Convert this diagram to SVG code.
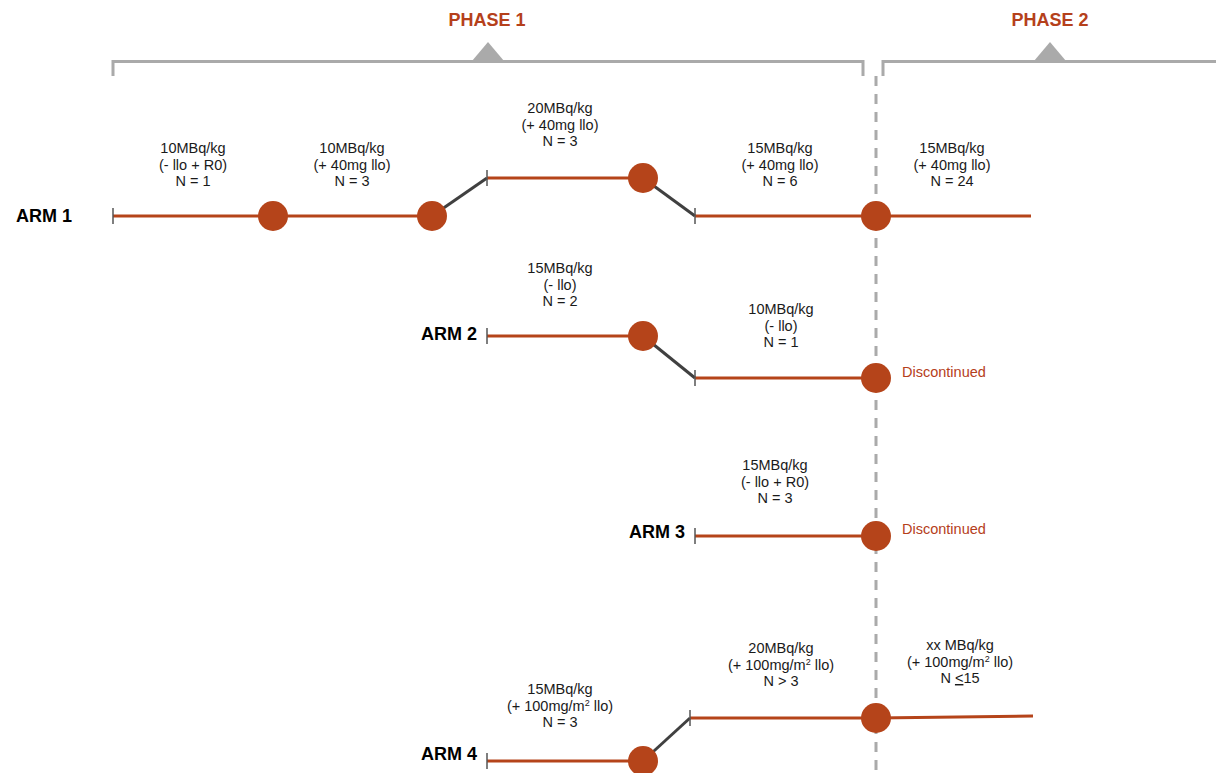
<svg xmlns="http://www.w3.org/2000/svg" width="1216" height="773" viewBox="0 0 1216 773">
<style>
text{font-family:"Liberation Sans",Arial,sans-serif;}
.lbl{font-size:14.5px;fill:#1a1a1a;text-anchor:middle;}
.arm{font-size:18px;font-weight:bold;fill:#000;}
.ph{font-size:18px;font-weight:bold;fill:#b5401b;text-anchor:middle;}
.disc{font-size:14.5px;fill:#b5401b;}
.seg{stroke:#b5441a;stroke-width:3;fill:none;}
.step{stroke:#404040;stroke-width:3;fill:none;}
.tick{stroke:#555;stroke-width:1.5;}
.dot{fill:#b5441a;}
.br{stroke:#aaa;stroke-width:3;fill:none;}
</style>
<rect width="1216" height="773" fill="#fff"/>
<g id="phase1">
<path class="br" d="M113,76 V61.5 H863 V76"/>
<polygon points="472,61 488,42 504,61" fill="#aaa"/>
<text class="ph" x="487" y="26">PHASE 1</text>
</g>
<g id="phase2">
<path class="br" d="M883,76 V61.5 H1216"/>
<polygon points="1034,61 1050,42 1066,61" fill="#aaa"/>
<text class="ph" x="1050" y="26">PHASE 2</text>
</g>
<g id="divider">
<line x1="876" y1="76" x2="876" y2="773" stroke="#aaa" stroke-width="3" stroke-dasharray="10,8"/>
</g>
<g id="connectors">
<line class="seg" x1="113" y1="216" x2="432" y2="216"/>
<line class="step" x1="432" y1="216" x2="487" y2="178"/>
<line class="seg" x1="487" y1="178" x2="643" y2="178"/>
<line class="step" x1="643" y1="178" x2="695" y2="216"/>
<line class="seg" x1="695" y1="216" x2="1031" y2="216"/>
<line class="seg" x1="487" y1="336" x2="643" y2="336"/>
<line class="step" x1="643" y1="336" x2="695" y2="378"/>
<line class="seg" x1="695" y1="378" x2="876" y2="378"/>
<line class="seg" x1="695" y1="536" x2="876" y2="536"/>
<line class="seg" x1="487" y1="761" x2="643" y2="761"/>
<line class="step" x1="643" y1="761" x2="690" y2="718"/>
<line class="seg" x1="690" y1="718" x2="876" y2="718"/>
<line class="seg" x1="876" y1="718" x2="1033" y2="716"/>
<line class="tick" x1="113" y1="208" x2="113" y2="224"/>
<line class="tick" x1="487" y1="170" x2="487" y2="186"/>
<line class="tick" x1="695" y1="208" x2="695" y2="224"/>
<line class="tick" x1="487" y1="328" x2="487" y2="344"/>
<line class="tick" x1="695" y1="370" x2="695" y2="386"/>
<line class="tick" x1="695" y1="528" x2="695" y2="544"/>
<line class="tick" x1="487" y1="753" x2="487" y2="769"/>
<line class="tick" x1="690" y1="710" x2="690" y2="726"/>
</g>
<g id="arm1">
<text class="arm" x="16" y="222">ARM 1</text>
<circle class="dot" cx="273" cy="216" r="15"/>
<circle class="dot" cx="432" cy="216" r="15"/>
<circle class="dot" cx="643" cy="178" r="15"/>
<circle class="dot" cx="876" cy="216" r="15"/>
<text class="lbl" x="193" y="153">10MBq/kg<tspan x="193" dy="16.5">(- llo + R0)</tspan><tspan x="193" dy="16.5">N = 1</tspan></text>
<text class="lbl" x="352" y="153">10MBq/kg<tspan x="352" dy="16.5">(+ 40mg llo)</tspan><tspan x="352" dy="16.5">N = 3</tspan></text>
<text class="lbl" x="560" y="113">20MBq/kg<tspan x="560" dy="16.5">(+ 40mg llo)</tspan><tspan x="560" dy="16.5">N = 3</tspan></text>
<text class="lbl" x="780" y="153">15MBq/kg<tspan x="780" dy="16.5">(+ 40mg llo)</tspan><tspan x="780" dy="16.5">N = 6</tspan></text>
<text class="lbl" x="952" y="153">15MBq/kg<tspan x="952" dy="16.5">(+ 40mg llo)</tspan><tspan x="952" dy="16.5">N = 24</tspan></text>
</g>
<g id="arm2">
<text class="arm" x="477" y="340" text-anchor="end">ARM 2</text>
<circle class="dot" cx="643" cy="336" r="15"/>
<circle class="dot" cx="876" cy="378" r="15"/>
<text class="disc" x="902" y="377">Discontinued</text>
<text class="lbl" x="560" y="273">15MBq/kg<tspan x="560" dy="16.5">(- llo)</tspan><tspan x="560" dy="16.5">N = 2</tspan></text>
<text class="lbl" x="781" y="314">10MBq/kg<tspan x="781" dy="16.5">(- llo)</tspan><tspan x="781" dy="16.5">N = 1</tspan></text>
</g>
<g id="arm3">
<text class="arm" x="685" y="538" text-anchor="end">ARM 3</text>
<circle class="dot" cx="876" cy="536" r="15"/>
<text class="disc" x="902" y="534">Discontinued</text>
<text class="lbl" x="775" y="470">15MBq/kg<tspan x="775" dy="16.5">(- llo + R0)</tspan><tspan x="775" dy="16.5">N = 3</tspan></text>
</g>
<g id="arm4">
<text class="arm" x="477" y="760" text-anchor="end">ARM 4</text>
<circle class="dot" cx="643" cy="761" r="15"/>
<circle class="dot" cx="876" cy="718" r="15"/>
<text class="lbl" x="560" y="694">15MBq/kg<tspan x="560" dy="16.5">(+ 100mg/m<tspan font-size="9" dy="-5">2</tspan><tspan dy="5"> llo)</tspan></tspan><tspan x="560" dy="16.5">N = 3</tspan></text>
<text class="lbl" x="781" y="653">20MBq/kg<tspan x="781" dy="16.5">(+ 100mg/m<tspan font-size="9" dy="-5">2</tspan><tspan dy="5"> llo)</tspan></tspan><tspan x="781" dy="16.5">N &gt; 3</tspan></text>
<text class="lbl" x="960" y="650">xx MBq/kg<tspan x="960" dy="16.5">(+ 100mg/m<tspan font-size="9" dy="-5">2</tspan><tspan dy="5"> llo)</tspan></tspan><tspan x="960" dy="16.5">N <tspan text-decoration="underline">&lt;</tspan>15</tspan></text>
</g>
</svg>
